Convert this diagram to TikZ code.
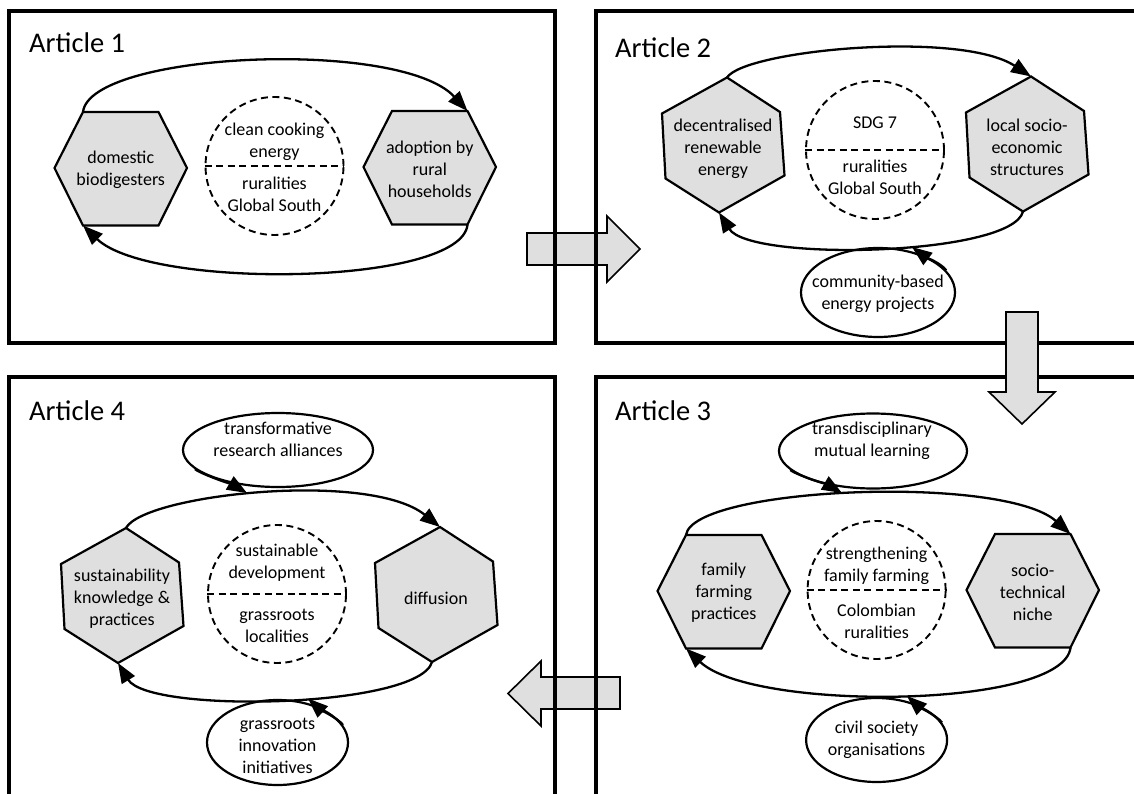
\documentclass[tikz,border=0pt]{standalone}
\usepackage{fontspec}
\setmainfont{Carlito}
\usetikzlibrary{arrows.meta,shapes.geometric}
\definecolor{hexgray}{gray}{0.875}

\tikzset{
  panel/.style={draw, line width=3.4pt},
  hexbox/.style={draw, fill=hexgray, line width=2.2pt},
  txt/.style={inner sep=0pt, align=center, font=\fontsize{18}{22}\selectfont},
  heading/.style={inner sep=0pt, anchor=base west, font=\fontsize{28.5}{34}\selectfont},
  ring/.style={circle, draw, line width=1.9pt, dash pattern=on 7pt off 4.5pt, minimum size=138pt, inner sep=0pt},
  divider/.style={line width=1.9pt, dash pattern=on 7pt off 4.5pt},
  bubble/.style={ellipse, draw, line width=2.2pt, inner sep=0pt},
  cycleflow/.style={line width=2.3pt, -{Triangle[length=20pt,width=15pt]}},
  feed/.style={line width=2.3pt, -{Triangle[length=20pt,width=15pt]}},
  blockarrow/.style={draw, fill=hexgray, line width=1.6pt},
}

% flat-topped hexagon: #1 name, #2/#3 top-left corner, #4 text
\newcommand\flathex[4]{%
  \begin{scope}[shift={(#2,#3)}]
    \draw[hexbox] (0,0) coordinate (#1-tl) -- (75.5,0) coordinate (#1-tr) -- (104,56)
      -- (75.5,113.5) coordinate (#1-br) -- (0,113.5) coordinate (#1-bl) -- (-28.5,56) -- cycle;
    \node[txt] (#1) at (37.75,58) {#4};
  \end{scope}}

% pointed-top hexagon: #1 name, #2/#3 top vertex, #4 text
\newcommand\verthex[4]{%
  \begin{scope}[shift={(#2,#3)}]
    \draw[hexbox] (0,0) coordinate (#1-t) -- (53,34.5) -- (57.5,98)
      -- (-8,135) coordinate (#1-b) -- (-61.5,101) -- (-65,36) -- cycle;
    \node[txt] (#1) at (-4,71) {#4};
  \end{scope}}

\begin{document}
\begin{tikzpicture}[x=1pt, y=-1pt]
\useasboundingbox (0,0) rectangle (1134,794);
\fill[white] (0,0) rectangle (1134,794);
\clip (0,0) rectangle (1134,794);

% horizontal transition arrows (behind the panel frames)
\draw[blockarrow] (527,233) -- (607,233) -- (607,216) -- (640,249) -- (607,282) -- (607,265) -- (527,265) -- cycle;
\draw[blockarrow] (620,677) -- (541,677) -- (541,661) -- (508,693.5) -- (541,726) -- (541,709) -- (620,709) -- cycle;

% panel frames
\draw[panel] (9,11) rectangle (555,343);
\draw[panel] (596,11) rectangle (1142,343);
\draw[panel] (596,377) rectangle (1142,900);
\draw[panel] (9,377) rectangle (555,900);

% vertical transition arrow (over the frames)
\draw[blockarrow] (1006,312) -- (1038,312) -- (1038,392) -- (1055,392) -- (1022,424) -- (989,392) -- (1006,392) -- cycle;

% headings
\node[heading] (A1) at (29,53) {Article 1};
\node[heading] (A2) at (615,58) {Article 2};
\node[heading] (A3) at (615,420) {Article 3};
\node[heading] (A4) at (29,420) {Article 4};

% ---- Article 1
\flathex{L1}{83}{112}{domestic\\biodigesters}
\flathex{R1}{392}{111}{adoption by\\rural\\households}
\node[ring] (C1) at (274.5,166) {};
\draw[divider] (C1.west) -- (C1.east);
\node[txt] (C1a) at (274.5,142) {clean cooking\\energy};
\node[txt] (C1b) at (274.5,194.5) {ruralities\\Global South};
\draw[cycleflow] (L1-tl) .. controls (90,52) and (400,38) .. (R1-tr);
\draw[cycleflow] (R1-br) .. controls (462,286) and (150,290) .. (L1-bl);

% ---- Article 2
\verthex{L2}{727}{77.5}{decentralised\\renewable\\energy}
\verthex{R2}{1031}{76.5}{local socio-\\economic\\structures}
\node[ring] (C2) at (875,150) {};
\draw[divider] (C2.west) -- (C2.east);
\node[txt] (C2a) at (875,123) {SDG 7};
\node[txt] (C2b) at (875,177.5) {ruralities\\Global South};
\draw[cycleflow] (L2-t) .. controls (745,50) and (960,30) .. (R2-t);
\draw[cycleflow] (R2-b) .. controls (1012,256) and (750,262) .. (L2-b);
\node[bubble, minimum width=154pt, minimum height=89pt] (E2) at (878,292.5) {};
\node[txt] (E2t) at (878,294) {community-based\\energy projects};
\coordinate (J2) at (912,247);
\draw[feed] (E2.18) .. controls +(-5,-7) and +(12,9) .. (J2);

% ---- Article 3
\flathex{L3}{686}{535}{family\\farming\\practices}
\flathex{R3}{995}{534}{socio-\\technical\\niche}
\node[ring] (C3) at (876.6,590) {};
\draw[divider] (C3.west) -- (C3.east);
\node[txt] (C3a) at (876.6,566) {strengthening\\family farming};
\node[txt] (C3b) at (876.6,621) {Colombian\\ruralities};
\draw[cycleflow] (L3-tl) .. controls (693,487) and (1003,474) .. (R3-tr);
\draw[cycleflow] (R3-br) .. controls (1064,709) and (753,712) .. (L3-bl);
\node[bubble, minimum width=188pt, minimum height=75pt] (T3) at (873,451) {};
\node[txt] (T3t) at (872,441) {transdisciplinary\\mutual learning};
\coordinate (J3a) at (842,493);
\draw[feed] (T3.193) .. controls +(6.5,5) and +(-12,-7) .. (J3a);
\node[bubble, minimum width=141pt, minimum height=84pt] (B3) at (876.6,740) {};
\node[txt] (B3t) at (876.6,740) {civil society\\organisations};
\coordinate (J3b) at (907,696);
\draw[feed] (B3.15) .. controls +(-5,-6.5) and +(11,10) .. (J3b);

% ---- Article 4
\verthex{L4}{126}{528}{sustainability\\knowledge \&\\practices}
\verthex{R4}{440}{527}{diffusion}
\node[ring] (C4) at (277,594) {};
\draw[divider] (C4.west) -- (C4.east);
\node[txt] (C4a) at (277,562.5) {sustainable\\development};
\node[txt] (C4b) at (277,626) {grassroots\\localities};
\draw[cycleflow] (L4-t) .. controls (144,494.5) and (369,470) .. (R4-t);
\draw[cycleflow] (R4-b) .. controls (419,708) and (149,714) .. (L4-b);
\node[bubble, minimum width=190pt, minimum height=74pt] (T4) at (278,450) {};
\node[txt] (T4t) at (278,439) {transformative\\research alliances};
\coordinate (J4a) at (247,493);
\draw[feed] (T4.193) .. controls +(6.5,5) and +(-12,-7) .. (J4a);
\node[bubble, minimum width=141pt, minimum height=85pt] (B4) at (277.5,742.5) {};
\node[txt] (B4t) at (277.5,746) {grassroots\\innovation\\initiatives};
\coordinate (J4b) at (308,698.5);
\draw[feed] (B4.15) .. controls +(-5,-6.5) and +(11,10) .. (J4b);
\end{tikzpicture}
\end{document}
